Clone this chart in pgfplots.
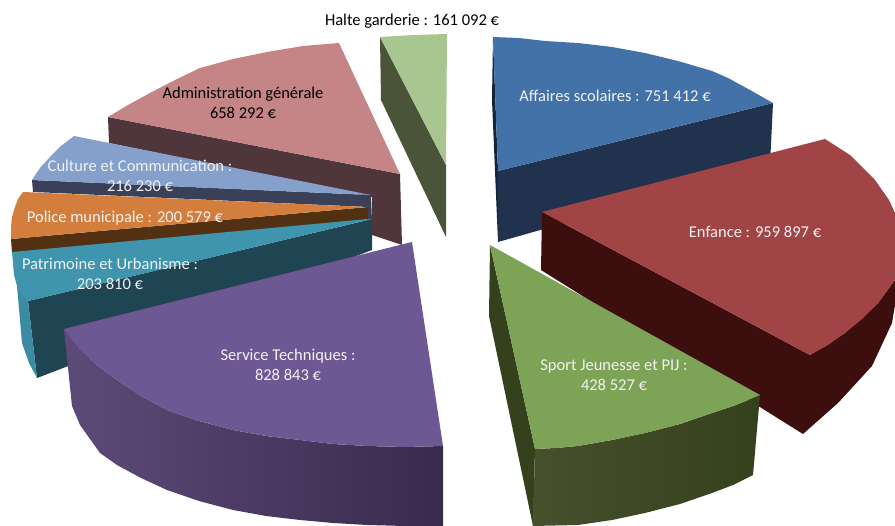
\documentclass[border=0pt]{standalone}
\usepackage{pgfplots}
\pgfplotsset{compat=1.18}
\usepackage{fontspec}
\setmainfont{Carlito}
\definecolor{bT}{HTML}{4272A8}\definecolor{bS}{HTML}{21324F}\definecolor{bD}{HTML}{16243C}
\definecolor{rT}{HTML}{A14445}\definecolor{rS}{HTML}{3C0E0E}
\definecolor{gT}{HTML}{7DA356}\definecolor{gS}{HTML}{35401C}\definecolor{gL}{HTML}{47502C}
\definecolor{pT}{HTML}{6D5893}\definecolor{pA}{HTML}{5E4A78}\definecolor{pB}{HTML}{3A2A4D}
\definecolor{tT}{HTML}{3F95AE}\definecolor{tS}{HTML}{1F4553}\definecolor{tM}{HTML}{3A8BA3}
\definecolor{oT}{HTML}{D47E3E}\definecolor{oS}{HTML}{523012}
\definecolor{cT}{HTML}{84A0CB}\definecolor{cS}{HTML}{3A4058}
\definecolor{aT}{HTML}{C58587}\definecolor{aS}{HTML}{4F363B}
\definecolor{hT}{HTML}{A8C690}\definecolor{hS}{HTML}{4A5438}
\definecolor{lab}{HTML}{F2F2F2}
\pgfplotsset{poly/.style={fill=#1,draw=none,mark=none,forget plot}}
\tikzset{lbl/.style={font=\fontsize{16.5}{20}\selectfont,inner sep=0pt,align=center,text=#1}}
\begin{document}
\begin{tikzpicture}
\begin{axis}[name=ax,scale only axis,width=895pt,height=526pt,xmin=0,xmax=895,ymin=0,ymax=526,y dir=reverse,hide axis]
% Halte garderie
\addplot[poly=hS] coordinates {(380,37)(446,165)(446,237)(381,100)} --cycle;
\addplot[poly=hT] coordinates {(380,37)(414,35)(447,34)(446,165)} --cycle;
% Administration
\addplot[poly=aS] coordinates {(108,117)(400,174)(402,245)(372,235)(372,197)(109,143)} --cycle;
\addplot[poly=aT] coordinates {(108,117)(128,105)(150,93)(175,80)(200,68)(233,59)(267,52)(303,46)(339,43)(400,174)} --cycle;
% Culture
\addplot[poly=cS] coordinates {(32,180)(371,195)(372,222)(368,222)(368,207)(33,192)} --cycle;
\addplot[poly=cT] coordinates {(74,136)(61,146)(50,157)(40,168)(32,180)(371,195)} --cycle;
% Police
\addplot[poly=oS] coordinates {(11,239)(368,207)(368,220)(12,253)} --cycle;
\addplot[poly=oT] coordinates {(23,192)(18,199)(15,207)(12,217)(11,227)(11,239)(368,207)} --cycle;
% Patrimoine
\addplot[poly=tS] coordinates {(372,219)(372,250)(37,378)(28,301)} --cycle;
\addplot[poly=tM] coordinates {(17,286)(28,301)(37,378)(29,363)(22,343)} --cycle;
\addplot[poly=tT] coordinates {(368,219)(12,252)(13,263)(14,275)(17,286)(22,294)(28,301)(372,219)} --cycle;
% Affaires scolaires
\addplot[poly=bD] coordinates {(493,37)(498,171)(498,242)(492,100)} --cycle;
\addplot[poly=bS] coordinates {(498,171)(773,103)(770,165)(498,242)} --cycle;
\addplot[poly=bT] coordinates {(498,171)(493,37)(519,38)(545,41)(578,43)(612,47)(645,53)(678,61)(712,71)(728,78)(750,90)(773,103)} --cycle;
% Enfance
\addplot[poly=rS] coordinates {(542,212)(810,355)(845,333)(878,303)(895,280)(895,305)(892,323)(872,366)(838,403)(803,434)(541,270)} --cycle;
\addplot[poly=rT] coordinates {(542,212)(825,139)(850,155)(875,180)(889,200)(895,213)(900,245)(895,280)(878,303)(862,319)(845,333)(828,345)(810,355)} --cycle;
% Sport
\addplot[poly=gS] coordinates {(490,245)(535,449)(533,526)(489,316)} --cycle;
\addplot[left color=gL,middle color=gS,right color=gS,draw=none,mark=none,forget plot] coordinates {(535,449)(556,448)(578,446)(612,440)(645,433)(680,424)(712,413)(736,405)(760,395)(753,475)(733,485)(712,493)(680,504)(645,513)(612,520)(578,525)(533,526)} --cycle;
\addplot[poly=gT] coordinates {(490,245)(535,449)(556,448)(578,446)(612,440)(645,433)(680,424)(712,413)(736,405)(760,395)} --cycle;
% Service Techniques
\addplot[left color=pA,right color=pB,draw=none,mark=none,forget plot] coordinates {(64,329)(80,350)(98,366)(117,380)(141,396)(167,410)(199,421)(233,430)(266,436)(300,440)(333,444)(367,446)(405,447)(443,446)(443,526)(405,526)(367,525)(333,523)(300,520)(266,516)(233,510)(199,501)(167,490)(141,478)(117,465)(100,453)(80,425)(72,406)} --cycle;
\addplot[poly=pT] coordinates {(64,329)(412,242)(443,446)(405,447)(367,446)(333,444)(300,440)(266,436)(233,430)(199,421)(167,410)(141,396)(117,380)(98,366)(80,350)} --cycle;
% Labels
\node[lbl=black] at (axis cs:412,21) {Halte garderie : 161 092 €};
\node[lbl=lab] at (axis cs:615,96) {Affaires scolaires : 751 412 €};
\node[lbl=lab] at (axis cs:755,232) {Enfance : 959 897 €};
\node[lbl=lab] at (axis cs:614,375) {Sport Jeunesse et PIJ :\\428 527 €};
\node[lbl=lab] at (axis cs:288,365) {Service Techniques :\\828 843 €};
\node[lbl=lab] at (axis cs:110,274) {Patrimoine et Urbanisme :\\203 810 €};
\node[lbl=lab] at (axis cs:125,218) {Police municipale : 200 579 €};
\node[lbl=lab] at (axis cs:140,176) {Culture et Communication :\\216 230 €};
\node[lbl=black] at (axis cs:243,103) {Administration générale\\658 292 €};
\end{axis}
\path[use as bounding box] (ax.south west) rectangle (ax.north east);
\end{tikzpicture}
\end{document}
